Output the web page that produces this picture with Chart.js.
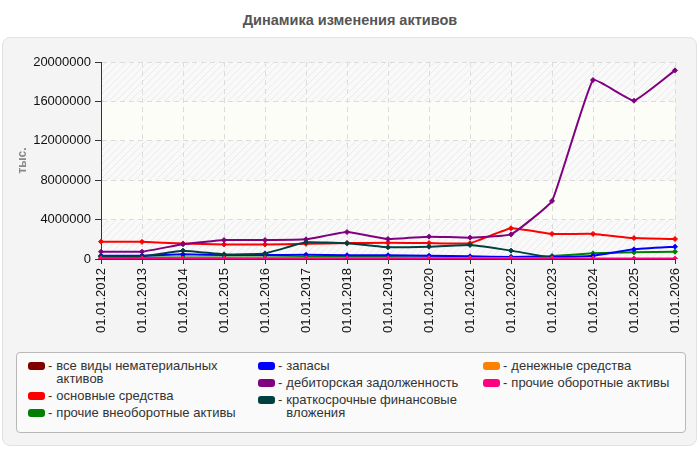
<!DOCTYPE html>
<html>
<head>
<meta charset="utf-8">
<script src="https://cdn.jsdelivr.net/npm/chart.js@4/dist/chart.umd.min.js"></script>
<style>
  body { margin: 0; width: 700px; height: 450px; position: relative; overflow: hidden; background: #fff;
         font-family: Arial, "Liberation Sans", sans-serif; }
  #title { position: absolute; left: 0; top: 12px; width: 700px; text-align: center; font-size: 14.5px; line-height: 16px;
           font-weight: bold; color: #555; }
  #panel { position: absolute; left: 2px; top: 37px; width: 695px; height: 409px; box-sizing: border-box;
           background: #f4f4f4; border: 1px solid #e2e2e2; border-radius: 8px; }
  #myChart { position: absolute; left: 0; top: 0; }
  #legend { position: absolute; left: 16px; top: 352px; width: 670px; height: 81px; box-sizing: border-box;
            border: 1px solid #b8b8b8; border-radius: 4px; background: #fafafa; }
  .col { position: absolute; top: 6px; }
  .item { display: flex; align-items: flex-start; font-size: 13px; line-height: 13px; color: #333; margin-bottom: 4px; }
  .sw { width: 17px; height: 8px; border-radius: 3px; margin-top: 3px; flex: none; }
  .dash { margin: 0 4px 0 3px; flex: none; }
</style>
</head>
<body>
<div id="title">Динамика изменения активов</div>
<div id="panel"></div>
<canvas id="myChart" width="700" height="350"></canvas>
<div id="legend"></div>
<script>
// даты
const labels = ['01.01.2012','01.01.2013','01.01.2014','01.01.2015','01.01.2016','01.01.2017','01.01.2018',
  '01.01.2019','01.01.2020','01.01.2021','01.01.2022','01.01.2023','01.01.2024','01.01.2025','01.01.2026'];

// значения, тыс.
const intangibles = [0,0,0,0,0,0,0,0,0,0,0,0,0,0,0];
const fixedAssets = [1760000,1740000,1580000,1480000,1480000,1540000,1620000,1640000,1620000,1600000,3120000,2550000,2550000,2120000,2030000];
const otherNonCurrent = [200000,150000,150000,150000,150000,200000,200000,200000,180000,180000,200000,300000,580000,680000,740000];
const inventories = [330000,330000,470000,400000,400000,420000,380000,380000,330000,270000,200000,200000,340000,980000,1250000];
const receivables = [740000,740000,1500000,1920000,1920000,2000000,2740000,2030000,2270000,2170000,2500000,5890000,18170000,16070000,19150000];
const shortTermInv = [270000,270000,850000,470000,570000,1690000,1600000,1190000,1250000,1420000,850000,130000,0,0,0];
const cash = [20000,20000,50000,60000,70000,70000,70000,70000,70000,70000,70000,60000,50000,50000,50000];
const otherCurrent = [20000,20000,20000,20000,20000,20000,20000,20000,20000,20000,20000,20000,20000,20000,20000];

const yTicks = [0, 4000000, 8000000, 12000000, 16000000, 20000000];

const series = [
  { name: 'все виды нематериальных активов', data: intangibles, color: '#800000', col: 0 },
  { name: 'основные средства', data: fixedAssets, color: '#ff0000', col: 0 },
  { name: 'прочие внеоборотные активы', data: otherNonCurrent, color: '#008000', col: 0 },
  { name: 'запасы', data: inventories, color: '#0000ff', col: 1 },
  { name: 'дебиторская задолженность', data: receivables, color: '#800080', col: 1 },
  { name: 'краткосрочные финансовые вложения', data: shortTermInv, color: '#004040', col: 1 },
  { name: 'денежные средства', data: cash, color: '#ff8000', col: 2 },
  { name: 'прочие оборотные активы', data: otherCurrent, color: '#ff0080', col: 2 }
];

// штриховка фона
const pc = document.createElement('canvas');
pc.width = 7; pc.height = 7;
const pctx = pc.getContext('2d');
pctx.fillStyle = '#f9f9f9';
pctx.fillRect(0, 0, 7, 7);
pctx.strokeStyle = '#ebebeb';
pctx.lineWidth = 1;
pctx.beginPath();
pctx.moveTo(0, 7); pctx.lineTo(7, 0);
pctx.moveTo(-1, 1); pctx.lineTo(1, -1);
pctx.moveTo(6, 8); pctx.lineTo(8, 6);
pctx.stroke();

const bands = {
  id: 'bands',
  beforeDraw(chart) {
    const { ctx, chartArea: a, scales: { y } } = chart;
    const hatch = ctx.createPattern(pc, 'repeat');
    ctx.save();
    for (let i = 0; i < yTicks.length - 1; i++) {
      const y1 = y.getPixelForValue(yTicks[i]);
      const y2 = y.getPixelForValue(yTicks[i + 1]);
      ctx.fillStyle = i % 2 === 0 ? hatch : '#fdfdf8';
      ctx.fillRect(a.left, y2, a.width, y1 - y2);
    }
    ctx.restore();
  }
};

const ctx = document.getElementById('myChart').getContext('2d');
const myChart = new Chart(ctx, {
  type: 'line',
  data: {
    labels: labels,
    datasets: series.map((s, i) => ({
      label: s.name,
      data: s.data,
      borderColor: s.color,
      backgroundColor: s.color,
      borderWidth: 2,
      pointStyle: 'rectRot',
      pointRadius: 2.5,
      pointBorderWidth: 1,
      tension: 0.1,
      order: series.length - i
    }))
  },
  options: {
    responsive: false,
    animation: false,
    layout: { padding: { left: 0, right: 25, top: 62, bottom: 0 } },
    plugins: {
      legend: { display: false },
      tooltip: { enabled: false }
    },
    scales: {
      x: {
        afterFit: (s) => { s.height = 91; },
        grid: { color: '#dcdcdc', tickColor: '#333', tickLength: 5, tickBorderDash: [] },
        border: { color: '#333', dash: [5, 4] },
        ticks: { maxRotation: 90, minRotation: 90, padding: 4, color: '#111', font: { family: 'Arial', size: 13 } }
      },
      y: {
        min: 0,
        max: 20000000,
        afterFit: (s) => { s.width = 101; },
        afterBuildTicks: (s) => { s.ticks = yTicks.map(v => ({ value: v })); },
        grid: { color: '#dcdcdc', tickColor: '#333', tickLength: 6, tickBorderDash: [] },
        border: { color: '#333', dash: [5, 4] },
        title: { display: true, text: 'тыс.', color: '#888', font: { family: 'Arial', size: 12, weight: 'bold' }, padding: { top: 15, bottom: 0 } },
        ticks: { padding: 4, color: '#111', font: { family: 'Arial', size: 13 }, callback: (v) => String(v) }
      }
    }
  },
  plugins: [bands]
});

// легенда в три колонки
const legend = document.getElementById('legend');
const colX = [11, 241, 466];
const colW = [216, 220, 200];
colX.forEach((x, c) => {
  const col = document.createElement('div');
  col.className = 'col';
  col.style.left = x + 'px';
  col.style.width = colW[c] + 'px';
  series.filter(s => s.col === c).forEach(s => {
    const it = document.createElement('div');
    it.className = 'item';
    it.innerHTML = '<span class="sw" style="background:' + s.color + '"></span><span class="dash">-</span><span>' + s.name + '</span>';
    col.appendChild(it);
  });
  legend.appendChild(col);
});
</script>
</body>
</html>
